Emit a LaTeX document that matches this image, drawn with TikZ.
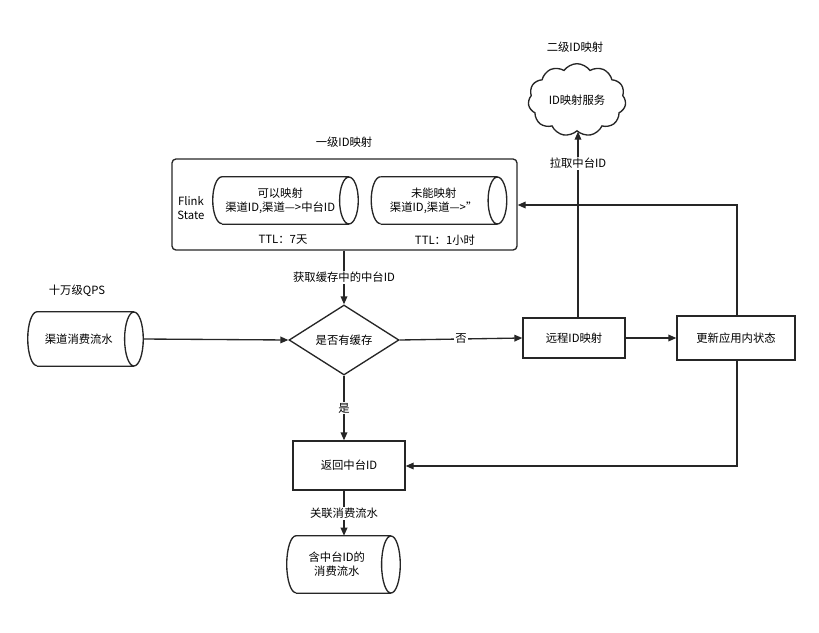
\documentclass[tikz,border=0pt]{standalone}
\usepackage{fontspec}
\setmainfont{Noto Sans CJK SC}
\usetikzlibrary{shapes.geometric,shapes.symbols,arrows.meta}
\newcommand{\mycyl}[2]{%
  \draw[ln] ([xshift=7pt]#1.north west) -- ([xshift=-7pt]#1.north east)
    ([xshift=-7pt]#1.east) ellipse[x radius=7pt,y radius=#2]
    ([xshift=7pt]#1.south west) -- ([xshift=-7pt]#1.south east);
  \draw[ln] ([xshift=7pt]#1.north west) arc[start angle=90,end angle=270,x radius=7pt,y radius=#2];}
\begin{document}
\begin{tikzpicture}[x=0.75pt,y=-0.75pt,
  every node/.style={font=\fontsize{8.5}{10.5}\selectfont,align=center},
  ln/.style={line width=1pt,draw=black!85},
  arr/.style={ln,-{Triangle[length=6pt,width=5pt]}},
  cyl/.style={rectangle,inner sep=0pt},
  box/.style={ln,rectangle,inner sep=0pt}]
\useasboundingbox (0,0) rectangle (819,633);
\node[ln,rectangle,rounded corners=3pt,minimum width=345*0.75pt,minimum height=91*0.75pt] (outer) at (344.5,204.5) {};
\node (t1) at (344,142) {一级ID映射};
\node (fs) at (191,208) {Flink\\State};
\node[cyl,minimum width=145*0.75pt,minimum height=47*0.75pt] (c1) at (285.5,200.5) {\hspace*{-8pt}可以映射\\\hspace*{-8pt}渠道ID,渠道—>中台ID};
\mycyl{c1}{17.6pt}
\node (ttl1) at (283,240) {TTL：7天};
\node[cyl,minimum width=135*0.75pt,minimum height=47*0.75pt] (c2) at (439,200.5) {\hspace*{-8pt}未能映射\\\hspace*{-8pt}渠道ID,渠道—>''};
\mycyl{c2}{17.6pt}
\node (ttl2) at (445,240) {TTL：1小时};
\node[ln,cloud,cloud puffs=11,cloud puff arc=110,minimum width=90*0.75pt,minimum height=62*0.75pt,aspect=1.5] (cloud) at (577,100) {ID映射服务};
\node (t2) at (575,47) {二级ID映射};
\node[cyl,minimum width=115*0.75pt,minimum height=54*0.75pt] (src) at (85.5,339) {\hspace*{-10pt}渠道消费流水};
\mycyl{src}{20.25pt}
\node (qps) at (77,291) {十万级QPS};
\node[ln,diamond,minimum width=110*0.75pt,minimum height=70*0.75pt,aspect=1.57,inner sep=0pt] (dia) at (344,340) {是否有缓存};
\node[box,minimum width=102*0.75pt,minimum height=40*0.75pt] (remote) at (574,338) {远程ID映射};
\node[box,minimum width=118*0.75pt,minimum height=44*0.75pt] (upd) at (736,338) {更新应用内状态};
\node[box,minimum width=112*0.75pt,minimum height=49*0.75pt] (ret) at (349,465.5) {返回中台ID};
\node[cyl,minimum width=113*0.75pt,minimum height=57*0.75pt] (out) at (343.5,564.5) {\hspace*{-10pt}含中台ID的\\\hspace*{-10pt}消费流水};
\mycyl{out}{21.4pt}
\coordinate (a1) at (737,205);
\coordinate (a2) at (737,466);
\draw[arr] (outer.south -| dia.north) -- node[fill=white,inner sep=1pt]{获取缓存中的中台ID} (dia.north);
\draw[arr] (src.east) -- (dia.west);
\draw[arr] (dia.east) -- node[fill=white,inner sep=1pt]{否} (remote.west);
\draw[arr] (remote.east) -- (upd.west);
\draw[arr] (remote.north -| 578,0) -- node[fill=white,inner sep=1pt,pos=0.83]{拉取中台ID} (cloud.south -| 578,0);
\draw[arr] (upd.north -| a1) -- (a1) -- (outer.east |- a1);
\draw[arr] (upd.south -| a2) -- (a2) -- (ret.east |- a2);
\draw[arr] (dia.south) -- node[fill=white,inner sep=1pt]{是} (dia.south |- ret.north);
\draw[arr] (ret.south -| dia.south) -- node[fill=white,inner sep=1pt]{关联消费流水} (out.north -| dia.south);
\end{tikzpicture}
\end{document}
